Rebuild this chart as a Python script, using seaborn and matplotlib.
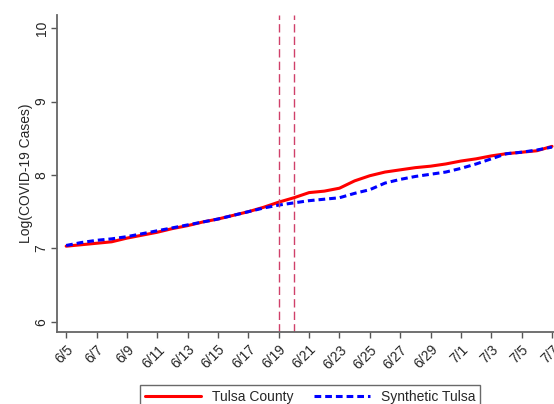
import matplotlib
matplotlib.use("Agg")
import matplotlib.pyplot as plt
import seaborn as sns
import pandas as pd
import numpy as np
from matplotlib.lines import Line2D

dates = pd.date_range("2020-06-05", "2020-07-07", freq="D")
tulsa_county = [7.03, 7.05, 7.07, 7.09, 7.14, 7.18, 7.22, 7.27, 7.31, 7.36,
                7.40, 7.45, 7.50, 7.56, 7.63, 7.69, 7.76, 7.78, 7.82, 7.92,
                7.99, 8.04, 8.07, 8.10, 8.12, 8.15, 8.19, 8.22, 8.26, 8.29,
                8.31, 8.33, 8.39]
synthetic_tulsa = [7.04, 7.08, 7.11, 7.13, 7.16, 7.20, 7.24, 7.28, 7.32, 7.36,
                   7.40, 7.45, 7.50, 7.55, 7.59, 7.62, 7.65, 7.67, 7.69, 7.75,
                   7.80, 7.89, 7.94, 7.98, 8.01, 8.04, 8.09, 8.15, 8.22, 8.29,
                   8.31, 8.34, 8.38]
event_dates = pd.to_datetime(["2020-06-19", "2020-06-20"])
tick_dates = pd.date_range("2020-06-05", "2020-07-07", freq="2D")
tick_labels = [f"{d.month}/{d.day}" for d in tick_dates]
y_ticks = [6, 7, 8, 9, 10]

df = pd.DataFrame({
    "date": list(dates) * 2,
    "value": tulsa_county + synthetic_tulsa,
    "series": ["Tulsa County"] * len(dates) + ["Synthetic Tulsa"] * len(dates),
})

sns.set_style("white")
plt.rcParams["font.family"] = ["Liberation Sans", "DejaVu Sans"]

fig = plt.figure(figsize=(5.54, 4.04), dpi=100)
ax = fig.add_axes([0.103, 0.178, 0.897, 0.785])

sns.lineplot(data=df, x="date", y="value", hue="series", style="series",
             palette={"Tulsa County": "#ff0000", "Synthetic Tulsa": "#0000ff"},
             dashes={"Tulsa County": "", "Synthetic Tulsa": (2.2, 1.3)},
             linewidth=2.2, ax=ax, legend=False)

for d in event_dates:
    ax.axvline(d, color="#d0406a", linestyle=(0, (6, 3)), linewidth=1.0)

ax.set_xlim(dates[0] - pd.Timedelta(days=0.6), dates[-1] + pd.Timedelta(days=0.13))
ax.set_ylim(5.86, 10.18)
ax.set_xticks(tick_dates)
ax.set_xticklabels(tick_labels, rotation=45, ha="right", rotation_mode="anchor", fontsize=10)
ax.set_yticks(y_ticks)
ax.set_yticklabels([str(v) for v in y_ticks], rotation=90, va="center", fontsize=10)
ax.set_xlabel("")
ax.set_ylabel("Log(COVID-19 Cases)", fontsize=10, labelpad=1)
ax.tick_params(axis="both", which="both", length=4, width=1, color="#555555",
               direction="out", bottom=True, left=True)
ax.tick_params(axis="y", pad=2)
for s in ["top", "right"]:
    ax.spines[s].set_visible(False)
for s in ["left", "bottom"]:
    ax.spines[s].set_color("#666666")
    ax.spines[s].set_linewidth(1.3)

handles = [Line2D([], [], color="#ff0000", linewidth=2.2),
           Line2D([], [], color="#0000ff", linewidth=2.2, linestyle=(0, (2.2, 1.3)))]
leg = fig.legend(handles, ["Tulsa County", "Synthetic Tulsa"], loc="upper center",
                 bbox_to_anchor=(0.56, 0.047), ncol=2, fontsize=10, frameon=True,
                 fancybox=False, edgecolor="#444444", handlelength=4.0,
                 columnspacing=1.5, borderpad=0.35, borderaxespad=0.0)
leg.get_frame().set_linewidth(1.0)

fig.savefig("out.png", dpi=100)
